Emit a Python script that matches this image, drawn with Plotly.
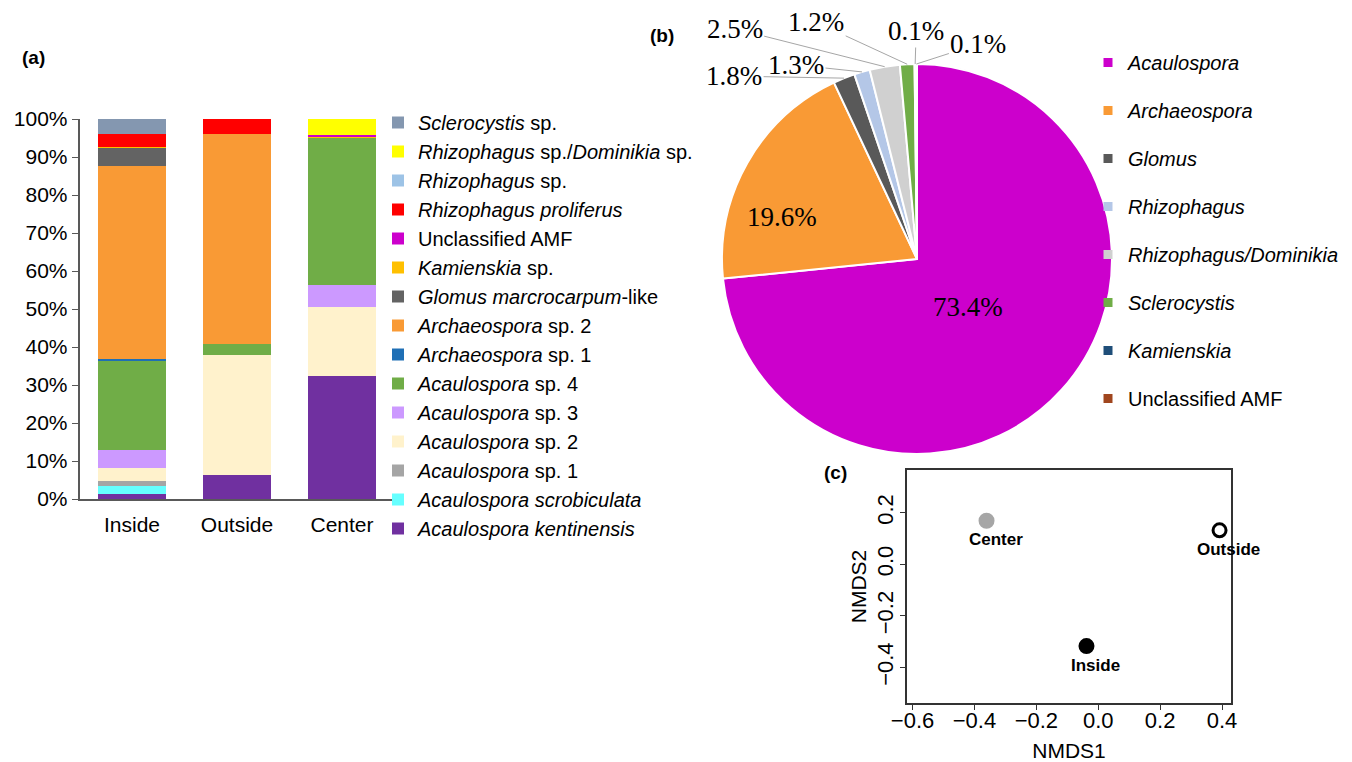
import math
import plotly.graph_objects as go

# page is 1352x762; the plot div sits 8px in from the top-left corner
PAGE_W, PAGE_H, OFF = 1352, 762, 8
FW, FH = PAGE_W - OFF, PAGE_H - OFF


def fx(px):
    return (px - OFF) / FW


def fy(py):
    return (PAGE_H - py) / FH


# ---------------- (a) stacked bars ----------------
sites = ["Inside", "Outside", "Center"]
bar_species = [
    "<i>Acaulospora kentinensis</i>",
    "<i>Acaulospora scrobiculata</i>",
    "<i>Acaulospora</i> sp. 1",
    "<i>Acaulospora</i> sp. 2",
    "<i>Acaulospora</i> sp. 3",
    "<i>Acaulospora</i> sp. 4",
    "<i>Archaeospora</i> sp. 1",
    "<i>Archaeospora</i> sp. 2",
    "<i>Glomus marcrocarpum</i>-like",
    "<i>Kamienskia</i> sp.",
    "Unclassified AMF",
    "<i>Rhizophagus proliferus</i>",
    "<i>Rhizophagus</i> sp.",
    "<i>Rhizophagus</i> sp./<i>Dominikia</i> sp.",
    "<i>Sclerocystis</i> sp.",
]
bar_colors = [
    "#7030A0", "#66FFFF", "#A5A5A5", "#FFF2CC", "#CC99FF", "#70AD47",
    "#1F6FB5", "#F99A35", "#636363", "#FFC000", "#CC00CC", "#FF0000",
    "#9DC3E6", "#FFFF00", "#8497B0",
]
inside_vals = [1.2, 2.1, 1.4, 3.5, 4.7, 23.5, 0.4, 50.8, 4.8, 0.3, 0.0, 3.4, 0.0, 0.0, 4.0]
outside_vals = [6.4, 0.0, 0.0, 31.6, 0.0, 2.8, 0.0, 55.3, 0.0, 0.0, 0.0, 3.9, 0.0, 0.0, 0.0]
center_vals = [32.5, 0.0, 0.0, 18.0, 5.7, 38.9, 0.0, 0.0, 0.0, 0.3, 0.3, 0.0, 0.0, 4.3, 0.0]

# ---------------- (b) pie ----------------
genera = ["<i>Acaulospora</i>", "<i>Archaeospora</i>", "<i>Glomus</i>", "<i>Rhizophagus</i>",
          "<i>Rhizophagus/Dominikia</i>", "<i>Sclerocystis</i>", "<i>Kamienskia</i>",
          "Unclassified AMF"]
genus_pct = [73.4, 19.6, 1.8, 1.3, 2.5, 1.2, 0.1, 0.1]
genus_colors = ["#CC00CC", "#F99A35", "#595959", "#B4C7E7", "#D0D0D0", "#70AD47",
                "#1F4E79", "#A0461E"]
# slices labelled inside the pie (text offset from the pie centre, px)
inside_offsets = {0: (88, 48), 1: (-135, -59)}
# outside labels: text offset (px) from their slice's rim point, joined by a leader line
label_offsets = {2: (-110, -2), 3: (-66, -7), 4: (-150, -38), 5: (-91, -42),
                 6: (1, -33), 7: (62, -20)}

# ---------------- (c) NMDS ----------------
nmds_sites = ["Center", "Outside", "Inside"]
nmds1 = [-0.361, 0.392, -0.038]
nmds2 = [0.169, 0.132, -0.317]
nmds_fill = ["#A6A6A6", "white", "black"]
nmds_line = ["#A6A6A6", "black", "black"]

# pie geometry (page pixels)
pie_cx, pie_cy, pie_r = 917, 259, 195

fig = go.Figure()

vals_by_site = [inside_vals, outside_vals, center_vals]
for i, sp in enumerate(bar_species):
    fig.add_trace(go.Bar(
        x=sites, y=[v[i] for v in vals_by_site], name=sp,
        marker=dict(color=bar_colors[i], line=dict(width=0)),
        xaxis="x", yaxis="y", legend="legend",
    ))

fig.add_trace(go.Pie(
    labels=genera, values=genus_pct, sort=False, direction="clockwise", rotation=0,
    marker=dict(colors=genus_colors, line=dict(color="white", width=2)),
    textinfo="none",
    domain=dict(x=[fx(pie_cx - pie_r), fx(pie_cx + pie_r)],
                y=[fy(pie_cy + pie_r), fy(pie_cy - pie_r)]),
    showlegend=False, hoverinfo="label+value",
))

pie_font = dict(family="Liberation Serif", size=27, color="black")
annotations = []
total = sum(genus_pct)
cum = 0.0
for i, v in enumerate(genus_pct):
    mid = (cum + v / 2) / total
    cum += v
    if i in inside_offsets:
        ox, oy = inside_offsets[i]
        annotations.append(dict(
            text=f"{v:.1f}%", x=fx(pie_cx + ox), y=fy(pie_cy + oy), xref="paper",
            yref="paper", showarrow=False, font=pie_font))
        continue
    theta = 2 * math.pi * mid
    tx = pie_cx + pie_r * math.sin(theta)
    ty = pie_cy - pie_r * math.cos(theta)
    ox, oy = label_offsets[i]
    annotations.append(dict(
        text=f"{v:.1f}%", x=fx(tx), y=fy(ty), xref="paper", yref="paper",
        ax=ox, ay=oy, showarrow=True, arrowhead=0, arrowwidth=1, arrowcolor="#A6A6A6",
        standoff=0, startstandoff=0, font=pie_font,
    ))

# legend entries for the pie (square swatches)
for g, c in zip(genera, genus_colors):
    fig.add_trace(go.Scatter(
        x=[None], y=[None], mode="markers", name=g,
        marker=dict(symbol="square", size=9, color=c),
        xaxis="x2", yaxis="y2", legend="legend2", legendgroup=g,
    ))

fig.add_trace(go.Scatter(
    x=nmds1, y=nmds2, mode="markers",
    marker=dict(symbol="circle", size=13, color=nmds_fill,
                line=dict(color=nmds_line, width=3)),
    xaxis="x2", yaxis="y2", showlegend=False, cliponaxis=False,
))
for s, xv, yv in zip(nmds_sites, nmds1, nmds2):
    annotations.append(dict(
        text=f"<b>{s}</b>", x=xv, y=yv, xref="x2", yref="y2", showarrow=False,
        xshift=9, yshift=-19, font=dict(family="Liberation Sans", size=17, color="black")))

axis_col = "#595959"
annotations += [
    dict(text="<b>(a)</b>", x=fx(20), y=fy(57), xref="paper", yref="paper",
         xanchor="left", yanchor="middle", showarrow=False, font=dict(size=19)),
    dict(text="<b>(b)</b>", x=fx(648), y=fy(35), xref="paper", yref="paper",
         xanchor="left", yanchor="middle", showarrow=False, font=dict(size=19)),
    dict(text="<b>(c)</b>", x=fx(822), y=fy(472), xref="paper", yref="paper",
         xanchor="left", yanchor="middle", showarrow=False, font=dict(size=19)),
]

fig.update_layout(
    width=FW, height=FH,
    margin=dict(l=0, r=0, t=0, b=0, autoexpand=False),
    paper_bgcolor="white", plot_bgcolor="white",
    font=dict(family="Liberation Sans", color="black"),
    barmode="stack", bargap=0.35,
    xaxis=dict(domain=[fx(79.5), fx(394.5)], anchor="y", showline=True, linecolor=axis_col,
               linewidth=2, ticks="outside", ticklen=6, tickcolor="rgba(0,0,0,0)",
               tickfont=dict(size=21), showgrid=False, automargin=False),
    yaxis=dict(domain=[fy(499), fy(119)], anchor="x", range=[0, 100],
               tickvals=list(range(0, 101, 10)), ticktext=[f"{v}%" for v in range(0, 101, 10)],
               showline=True, linecolor=axis_col, linewidth=1.5, ticks="outside", ticklen=6,
               tickcolor=axis_col, tickfont=dict(size=21), showgrid=False, zeroline=False,
               automargin=False),
    xaxis2=dict(domain=[fx(907), fx(1231)], anchor="y2", range=[-0.618, 0.429],
                tickvals=[-0.6, -0.4, -0.2, 0.0, 0.2, 0.4], tickformat=".1f",
                showline=True, mirror=True, linecolor="#333333", linewidth=1.5,
                ticks="outside", ticklen=5, tickcolor="#333333", tickfont=dict(size=22),
                ticklabelstandoff=-8,
                showgrid=False, zeroline=False, automargin=False,
                title=dict(text="NMDS1", font=dict(size=21), standoff=17)),
    yaxis2=dict(domain=[fy(703), fy(470)], anchor="x2", range=[-0.538, 0.366],
                tickvals=[-0.4, -0.2, 0.0, 0.2], tickformat=".1f", tickangle=-90,
                showline=True, mirror=True, linecolor="#333333", linewidth=1.5,
                ticks="outside", ticklen=5, tickcolor="#333333", tickfont=dict(size=22),
                ticklabelstandoff=-2,
                showgrid=False, zeroline=False, automargin=False,
                title=dict(text="NMDS2", font=dict(size=21), standoff=1)),
    legend=dict(x=fx(418 - 40), y=fy(103), xanchor="left", yanchor="top",
                traceorder="reversed", font=dict(size=20), bgcolor="rgba(0,0,0,0)"),
    legend2=dict(x=fx(1128 - 40), y=fy(43), xanchor="left", yanchor="top",
                 traceorder="grouped", tracegroupgap=19, font=dict(size=20),
                 bgcolor="rgba(0,0,0,0)"),
    annotations=annotations,
)

fig.write_html("out.html")
